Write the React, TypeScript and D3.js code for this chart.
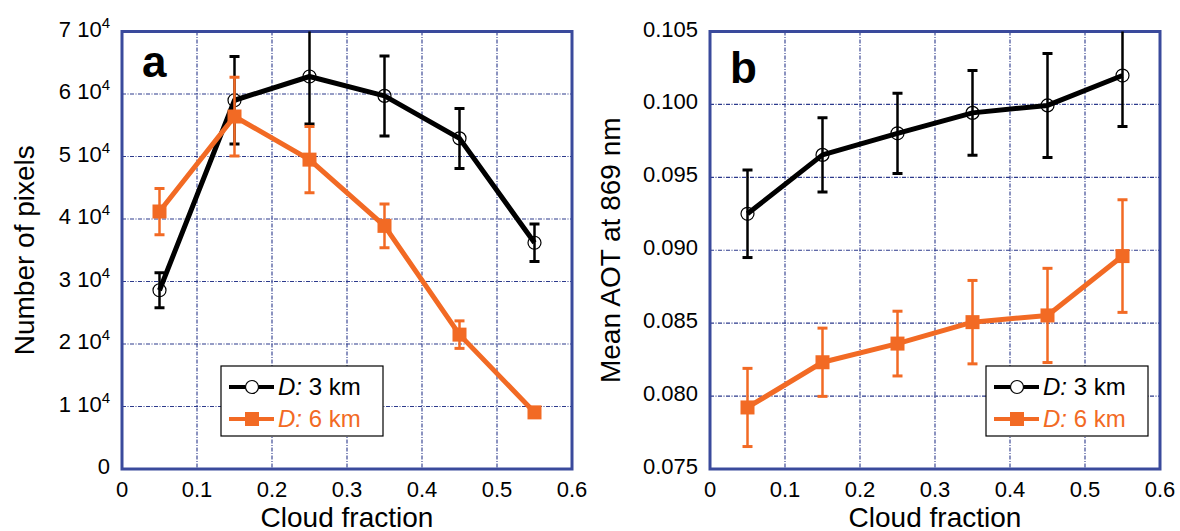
import React from "react";
import * as d3 from "d3";

// ---- Data ----
const cloudFraction = [0.05, 0.15, 0.25, 0.35, 0.45, 0.55];

// Panel a: number of pixels (units of 10^4)
const pixels3km = [2.86, 5.9, 6.28, 5.97, 5.29, 3.62];
const pixels3kmErr = [0.28, 0.7, 0.76, 0.64, 0.48, 0.3];
const pixels6km = [4.12, 5.64, 4.95, 3.89, 2.15, 0.906];
const pixels6kmErr = [0.37, 0.63, 0.53, 0.35, 0.22, 0.0];

// Panel b: mean AOT at 869 nm
const aot3km = [0.0925, 0.09654, 0.09802, 0.09942, 0.09993, 0.10198];
const aot3kmErr = [0.003, 0.00254, 0.00275, 0.0029, 0.00357, 0.0035];
const aot6km = [0.07922, 0.08232, 0.0836, 0.08507, 0.08553, 0.0896];
const aot6kmErr = [0.00268, 0.00234, 0.00222, 0.00286, 0.00323, 0.00386];

const xTicks = [0, 0.1, 0.2, 0.3, 0.4, 0.5, 0.6];
const xTickLabels = ["0", "0.1", "0.2", "0.3", "0.4", "0.5", "0.6"];
const yTicksA = [0, 1, 2, 3, 4, 5, 6, 7];
const yTicksB = [0.075, 0.08, 0.085, 0.09, 0.095, 0.1, 0.105];
const yTickLabelsB = ["0.075", "0.080", "0.085", "0.090", "0.095", "0.100", "0.105"];

const seriesNames = ["3 km", "6 km"];

const BLACK = "#000000";
const ORANGE = "#f26a24";
const FRAME = "#3a4a9c";
const GRID = "#2c3a8c";
const FONT = "Liberation Sans, Arial, Helvetica, sans-serif";

type PanelProps = {
  id: string;
  left: number;
  right: number;
  top: number;
  bottom: number;
  yDomain: [number, number];
  yTicks: number[];
  yLabel: (v: number, i: number) => React.ReactNode;
  yTitle: string;
  yTitleX: number;
  letter: string;
  letterY: number;
  s3: number[];
  e3: number[];
  s6: number[];
  e6: number[];
  legendX: number;
};

function Panel(p: PanelProps) {
  const x = d3.scaleLinear().domain([0, 0.6]).range([p.left, p.right]);
  const y = d3.scaleLinear().domain(p.yDomain).range([p.bottom, p.top]);
  const line = d3
    .line<number>()
    .x((_, i) => x(cloudFraction[i]))
    .y((v) => y(v));
  const clipId = `clip-${p.id}`;
  const capW = 5;

  const errBars = (vals: number[], errs: number[], color: string, w: number) =>
    vals.map((v, i) => {
      if (errs[i] <= 0) return null;
      const cx = x(cloudFraction[i]);
      const y1 = y(v + errs[i]);
      const y2 = y(v - errs[i]);
      return (
        <g key={`e${i}`} stroke={color} strokeWidth={w}>
          <line x1={cx} x2={cx} y1={y1} y2={y2} />
          <line x1={cx - capW} x2={cx + capW} y1={y1} y2={y1} strokeWidth={3} />
          <line x1={cx - capW} x2={cx + capW} y1={y2} y2={y2} strokeWidth={3} />
        </g>
      );
    });

  const midY = (p.top + p.bottom) / 2;
  const lgTop = 366;
  const lgX = p.legendX;

  return (
    <g>
      <defs>
        <clipPath id={clipId}>
          <rect x={p.left} y={p.top} width={p.right - p.left} height={p.bottom - p.top} />
        </clipPath>
      </defs>
      {/* grid */}
      <g stroke={GRID} strokeWidth={1.1} strokeDasharray="4,1.5,1,1.5">
        {xTicks.slice(1, -1).map((t) => (
          <line key={`gx${t}`} x1={x(t)} x2={x(t)} y1={p.top} y2={p.bottom} />
        ))}
        {p.yTicks.slice(1, -1).map((t) => (
          <line key={`gy${t}`} x1={p.left} x2={p.right} y1={y(t)} y2={y(t)} />
        ))}
      </g>
      {/* frame */}
      <rect
        x={p.left}
        y={p.top}
        width={p.right - p.left}
        height={p.bottom - p.top}
        fill="none"
        stroke={FRAME}
        strokeWidth={3}
      />
      {/* tick labels */}
      <g fontFamily={FONT} fontSize={22} fill="#000">
        {xTicks.map((t, i) => (
          <text key={`xl${t}`} x={x(t)} y={p.bottom + 28} textAnchor="middle">
            {xTickLabels[i]}
          </text>
        ))}
        {p.yTicks.map((t, i) => (
          <text key={`yl${t}`} x={p.left - 12} y={y(t) + 5} textAnchor="end">
            {p.yLabel(t, i)}
          </text>
        ))}
      </g>
      {/* axis titles */}
      <text
        x={(p.left + p.right) / 2}
        y={p.bottom + 58}
        textAnchor="middle"
        fontFamily={FONT}
        fontSize={28}
      >
        Cloud fraction
      </text>
      <text
        transform={`translate(${p.yTitleX},${midY}) rotate(-90)`}
        textAnchor="middle"
        fontFamily={FONT}
        fontSize={28}
      >
        {p.yTitle}
      </text>
      {/* panel letter */}
      <text x={p.left + 20} y={p.letterY} fontFamily={FONT} fontSize={44} fontWeight="bold">
        {p.letter}
      </text>
      {/* series */}
      <g clipPath={`url(#${clipId})`}>
        {errBars(p.s3, p.e3, BLACK, 2.5)}
        <path d={line(p.s3) || ""} fill="none" stroke={BLACK} strokeWidth={5} strokeLinejoin="round" />
        {p.s3.map((v, i) => (
          <circle key={`c${i}`} cx={x(cloudFraction[i])} cy={y(v)} r={6.5} fill="none" stroke={BLACK} strokeWidth={1.2} />
        ))}
        {errBars(p.s6, p.e6, ORANGE, 2.5)}
        <path d={line(p.s6) || ""} fill="none" stroke={ORANGE} strokeWidth={5} strokeLinejoin="round" />
        {p.s6.map((v, i) => (
          <rect key={`s${i}`} x={x(cloudFraction[i]) - 7} y={y(v) - 7} width={14} height={14} fill={ORANGE} />
        ))}
      </g>
      {/* legend */}
      <g>
        <rect x={lgX} y={lgTop} width={162} height={70} fill="#fff" stroke="#000" strokeWidth={1.2} />
        <line x1={lgX + 8} x2={lgX + 53} y1={lgTop + 21} y2={lgTop + 21} stroke={BLACK} strokeWidth={4} />
        <circle cx={lgX + 31} cy={lgTop + 21} r={6.5} fill="#fff" stroke={BLACK} strokeWidth={1.2} />
        <text x={lgX + 57} y={lgTop + 29} fontFamily={FONT} fontSize={24} fill={BLACK}>
          <tspan fontStyle="italic">D:</tspan> {seriesNames[0]}
        </text>
        <line x1={lgX + 8} x2={lgX + 53} y1={lgTop + 53} y2={lgTop + 53} stroke={ORANGE} strokeWidth={4} />
        <rect x={lgX + 24} y={lgTop + 46} width={14} height={14} fill={ORANGE} />
        <text x={lgX + 57} y={lgTop + 61} fontFamily={FONT} fontSize={24} fill={ORANGE}>
          <tspan fontStyle="italic">D:</tspan> {seriesNames[1]}
        </text>
      </g>
    </g>
  );
}

export default function App() {
  const top = 31.5;
  const bottom = 469;
  return (
    <svg
      width={1180}
      height={531}
      style={{ position: "absolute", left: 0, top: 0, background: "#fff" }}
    >
      <rect width={1180} height={531} fill="#fff" />
      <Panel
        id="a"
        left={122}
        right={572}
        top={top}
        bottom={bottom}
        yDomain={[0, 7]}
        yTicks={yTicksA}
        yLabel={(v) =>
          v === 0 ? (
            "0"
          ) : (
            <>
              {`${v} 10`}
              <tspan dy={-9} fontSize={15}>
                4
              </tspan>
            </>
          )
        }
        yTitle="Number of pixels"
        yTitleX={34}
        letter="a"
        letterY={77}
        s3={pixels3km}
        e3={pixels3kmErr}
        s6={pixels6km}
        e6={pixels6kmErr}
        legendX={221}
      />
      <Panel
        id="b"
        left={710}
        right={1160}
        top={top}
        bottom={bottom}
        yDomain={[0.075, 0.105]}
        yTicks={yTicksB}
        yLabel={(_, i) => yTickLabelsB[i]}
        yTitle="Mean AOT at 869 nm"
        yTitleX={620}
        letter="b"
        letterY={83}
        s3={aot3km}
        e3={aot3kmErr}
        s6={aot6km}
        e6={aot6kmErr}
        legendX={986}
      />
    </svg>
  );
}
